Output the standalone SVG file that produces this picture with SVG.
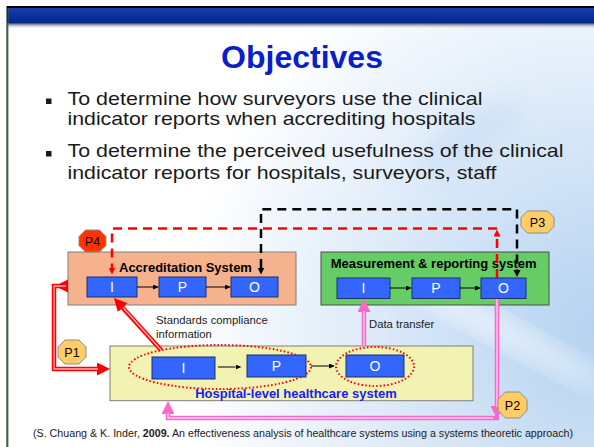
<svg xmlns="http://www.w3.org/2000/svg" width="594" height="447" viewBox="0 0 594 447">
<defs>
  <radialGradient id="bgGlow" cx="600" cy="330" r="420" gradientUnits="userSpaceOnUse">
    <stop offset="0" stop-color="#B4D2F0"/>
    <stop offset="0.45" stop-color="#D6E6F7"/>
    <stop offset="1" stop-color="#FFFFFF"/>
  </radialGradient>
  <linearGradient id="barGrad" x1="0" y1="0" x2="0" y2="1">
    <stop offset="0" stop-color="#1C3DA6"/>
    <stop offset="0.5" stop-color="#0A319C"/>
    <stop offset="1" stop-color="#05298A"/>
  </linearGradient>
  <linearGradient id="shadowGrad" x1="0" y1="0" x2="0" y2="1">
    <stop offset="0" stop-color="#3A3A4A"/>
    <stop offset="1" stop-color="#FFFFFF" stop-opacity="0"/>
  </linearGradient>
  <filter id="soft" x="-50%" y="-50%" width="200%" height="200%">
    <feGaussianBlur stdDeviation="12"/>
  </filter>
  <marker id="ahBigRed" markerUnits="userSpaceOnUse" markerWidth="14" markerHeight="14" refX="1" refY="6.5" orient="auto">
    <path d="M0,0 L13,6.5 L0,13 z" fill="#FF0000"/>
  </marker>
  <marker id="ahBigRedStart" markerUnits="userSpaceOnUse" markerWidth="14" markerHeight="14" refX="1" refY="6.5" orient="auto">
    <path d="M0,0 L13,6.5 L0,13 z" fill="#FF0000"/>
  </marker>
  <marker id="ahPink" markerUnits="userSpaceOnUse" markerWidth="14" markerHeight="14" refX="1" refY="6.5" orient="auto">
    <path d="M0,0 L13,6.5 L0,13 z" fill="#FF66CC"/>
  </marker>
  <marker id="ahSmRed" markerUnits="userSpaceOnUse" markerWidth="8" markerHeight="8" refX="0.5" refY="3.5" orient="auto">
    <path d="M0,0 L7,3.5 L0,7 z" fill="#FF0000"/>
  </marker>
  <marker id="ahSmBlack" markerUnits="userSpaceOnUse" markerWidth="8" markerHeight="8" refX="0.5" refY="3.5" orient="auto-start-reverse">
    <path d="M0,0 L7,3.5 L0,7 z" fill="#000000"/>
  </marker>
  <marker id="ahTiny" markerUnits="userSpaceOnUse" markerWidth="7" markerHeight="6" refX="0" refY="2.5" orient="auto">
    <path d="M0,0 L6,2.5 L0,5 z" fill="#000000"/>
  </marker>
  <style>
    .sans { font-family: "Liberation Sans", Arial, sans-serif; }
    .bullet { font-family: "Liberation Sans", Arial, sans-serif; font-size: 19px; fill: #1A1A1A; }
    .ipo { fill: #3366FF; stroke: #1F2F6F; stroke-width: 1; }
    .ipoTxt { font-family: "Liberation Sans", Arial, sans-serif; font-size: 14px; fill: #FFFFFF; text-anchor: middle; }
    .sysTitle { font-family: "Liberation Sans", Arial, sans-serif; font-size: 13px; font-weight: bold; fill: #000000; }
    .label { font-family: "Liberation Sans", Arial, sans-serif; font-size: 11.3px; fill: #222222; }
    .octGold { fill: #FFCC66; stroke: #8C8C8C; stroke-width: 1; }
    .octRed { fill: #FF3300; stroke: #8C8C8C; stroke-width: 1; }
    .octTxt { font-family: "Liberation Sans", Arial, sans-serif; font-size: 12.5px; fill: #000000; text-anchor: middle; }
    .redDouble { fill: none; stroke: #FF0000; stroke-width: 4.5; stroke-linejoin: miter; }
    .redInner { fill: none; stroke: #FFB3B3; stroke-width: 1.3; }
    .pinkDouble { fill: none; stroke: #FF66CC; stroke-width: 4.5; stroke-linejoin: miter; }
    .pinkInner { fill: none; stroke: #FFD6F0; stroke-width: 1.3; }
    .redDash { fill: none; stroke: #FF0000; stroke-width: 2.5; stroke-dasharray: 9 6; }
    .blackDash { fill: none; stroke: #000000; stroke-width: 2.5; stroke-dasharray: 9 6; }
    .thin { fill: none; stroke: #000000; stroke-width: 1; }
    .dotEllipse { fill: none; stroke: #FF0000; stroke-width: 2; stroke-dasharray: 1.5 2.2; }
  </style>
</defs>

<!-- background -->
<rect x="0" y="0" width="594" height="447" fill="#FFFFFF"/>
<rect x="8" y="8" width="586" height="439" fill="url(#bgGlow)"/>
<ellipse cx="470" cy="140" rx="60" ry="22" fill="#CFE2F6" filter="url(#soft)" transform="rotate(-35 470 140)"/>
<ellipse cx="500" cy="330" rx="120" ry="10" fill="#FFFFFF" opacity="0.7" filter="url(#soft)" transform="rotate(28 500 330)"/>

<!-- title bar and border -->
<rect x="7" y="6" width="587" height="2" fill="#000000"/>
<rect x="7" y="8" width="587" height="15" fill="url(#barGrad)"/>
<rect x="8" y="23" width="586" height="6" fill="url(#shadowGrad)"/>
<rect x="6.5" y="6" width="1.2" height="441" fill="#000000"/>
<rect x="7.6" y="8" width="0.8" height="439" fill="#2E7D4A"/>

<!-- title -->
<text x="302" y="68" class="sans" font-size="32" font-weight="bold" fill="#0A1ECC" text-anchor="middle">Objectives</text>

<!-- bullets -->
<rect x="46" y="98.5" width="5.5" height="5.5" fill="#1A1A1A"/>
<text x="67.5" y="104.5" class="bullet" textLength="415" lengthAdjust="spacingAndGlyphs">To determine how surveyors use the clinical</text>
<text x="67.5" y="124.8" class="bullet" textLength="408" lengthAdjust="spacingAndGlyphs">indicator reports when accrediting hospitals</text>
<rect x="46" y="151" width="5.5" height="5.5" fill="#1A1A1A"/>
<text x="67.5" y="157" class="bullet" textLength="496" lengthAdjust="spacingAndGlyphs">To determine the perceived usefulness of the clinical</text>
<text x="67.5" y="178.6" class="bullet" textLength="429" lengthAdjust="spacingAndGlyphs">indicator reports for hospitals, surveyors, staff</text>

<!-- Accreditation system -->
<g id="accreditation-system">
  <rect x="68" y="252" width="228" height="53" fill="#F6B28C" stroke="#7F7F7F" stroke-width="1"/>
  <text x="119" y="271.7" class="sysTitle" font-size="12.8">Accreditation System</text>
  <rect x="87" y="277" width="50" height="20" class="ipo"/>
  <text x="112" y="292" class="ipoTxt">I</text>
  <rect x="159" y="277" width="47" height="20" class="ipo"/>
  <text x="182.5" y="292" class="ipoTxt">P</text>
  <rect x="231" y="277" width="47" height="20" class="ipo"/>
  <text x="254.5" y="292" class="ipoTxt">O</text>
</g>

<!-- Measurement & reporting system -->
<g id="measurement-system">
  <rect x="321" y="252" width="228" height="53" fill="#66CC66" stroke="#4D4D4D" stroke-width="1"/>
  <text x="330.7" y="268.3" class="sysTitle">Measurement &amp; reporting system</text>
  <rect x="337" y="278" width="53" height="20.5" class="ipo"/>
  <text x="363.5" y="293.3" class="ipoTxt">I</text>
  <rect x="412" y="278" width="48" height="20.5" class="ipo"/>
  <text x="436" y="293.3" class="ipoTxt">P</text>
  <rect x="481" y="278" width="45" height="20.5" class="ipo"/>
  <text x="503.5" y="293.3" class="ipoTxt">O</text>
</g>

<!-- Hospital-level healthcare system -->
<g id="hospital-system">
  <rect x="110" y="346" width="363" height="54.7" fill="#F2F2B2" stroke="#7F7F7F" stroke-width="1"/>
  <ellipse cx="220" cy="367" rx="91" ry="22" class="dotEllipse"/>
  <ellipse cx="375" cy="366.5" rx="39" ry="19.5" class="dotEllipse"/>
  <rect x="152" y="357" width="63" height="22" class="ipo"/>
  <text x="183.5" y="373" class="ipoTxt">I</text>
  <rect x="247" y="355" width="59" height="22" class="ipo"/>
  <text x="276.5" y="371" class="ipoTxt">P</text>
  <rect x="346" y="355" width="58" height="22" class="ipo"/>
  <text x="375" y="371" class="ipoTxt">O</text>
  <text x="296" y="398" class="sysTitle" style="fill:#1A1AFF" text-anchor="middle">Hospital-level healthcare system</text>
</g>

<!-- connectors -->
<g id="connectors">
  <path d="M137,287 H153" class="thin" marker-end="url(#ahTiny)"/>
  <path d="M206,287 H225" class="thin" marker-end="url(#ahTiny)"/>
  <path d="M390,288 H406" class="thin" marker-end="url(#ahTiny)"/>
  <path d="M460,288 H475" class="thin" marker-end="url(#ahTiny)"/>
  <path d="M218,367 H235.5" class="thin" marker-end="url(#ahTiny)"/>
  <path d="M311,366 H329" class="thin" marker-end="url(#ahTiny)"/>

  <path d="M497,278 V236" class="redDash" marker-end="url(#ahSmRed)"/>
  <path d="M497,228.5 H112 V268" class="redDash" marker-end="url(#ahSmRed)"/>

  <path d="M261,268 V209.3 H517 V270.5" class="blackDash" marker-start="url(#ahSmBlack)" marker-end="url(#ahSmBlack)"/>

  <path d="M161,350 L122,307" class="redDouble" marker-end="url(#ahBigRed)"/>
  <path d="M161,350 L123,307.5" class="redInner"/>

  <path d="M67,286 H54 V369 H98" class="redDouble" marker-start="url(#ahBigRedStart)" marker-end="url(#ahBigRed)"/>
  <path d="M66,286 H54 V369 H98" class="redInner"/>

  <path d="M364,346 V311" class="pinkDouble" marker-end="url(#ahPink)"/>
  <path d="M364,346 V311" class="pinkInner"/>

  <path d="M497,299 V407" class="pinkDouble" marker-end="url(#ahPink)"/>
  <path d="M497,299 V407" class="pinkInner"/>
  <path d="M499,418 H168 V413" class="pinkDouble" marker-end="url(#ahPink)"/>
  <path d="M493,418 H168 V413" class="pinkInner"/>
</g>

<g id="labels">
  <text x="156" y="324" class="label">Standards compliance</text>
  <text x="156" y="337.5" class="label">information</text>
  <text x="369" y="328.3" class="label">Data transfer</text>
</g>

<g id="P4">
  <polygon points="85.5,230 99.5,230 106,236.5 106,245.5 99.5,252 85.5,252 79,245.5 79,236.5" class="octRed"/>
  <text x="92.5" y="245.5" class="octTxt">P4</text>
</g>
<g id="P3">
  <polygon points="527.5,211 547.5,211 554,217.5 554,226.5 547.5,233 527.5,233 521,226.5 521,217.5" class="octGold"/>
  <text x="537.5" y="226.5" class="octTxt">P3</text>
</g>
<g id="P2">
  <polygon points="505.5,392 519.5,392 527,399.5 527,410.5 519.5,418 505.5,418 498,410.5 498,399.5" class="octGold"/>
  <text x="512.5" y="409.5" class="octTxt">P2</text>
</g>
<g id="P1">
  <polygon points="65,340 79,340 86,347 86,357 79,364 65,364 58,357 58,347" class="octGold"/>
  <text x="72" y="356.5" class="octTxt">P1</text>
</g>

<text x="33" y="437" class="sans" font-size="10" fill="#222222" textLength="540" lengthAdjust="spacingAndGlyphs">(S. Chuang &amp; K. Inder, <tspan font-weight="bold">2009.</tspan> An effectiveness analysis of healthcare systems using a systems theoretic approach)</text>
</svg>
